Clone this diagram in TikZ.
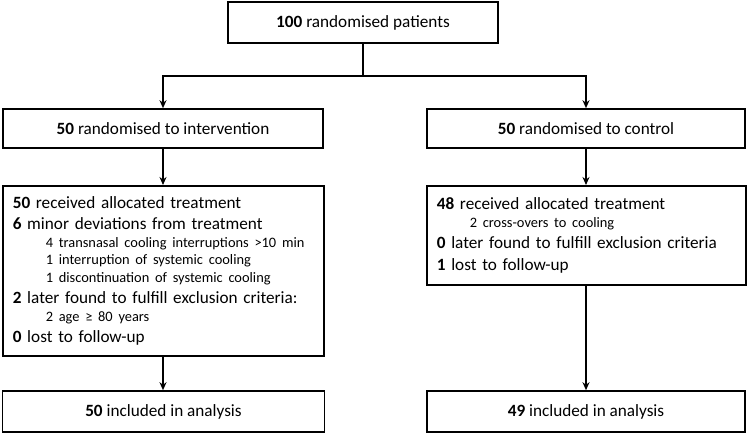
\documentclass[tikz,border=0pt]{standalone}
\usepackage{fontspec}
\setmainfont{Carlito}
\usepackage{tikz}
\usetikzlibrary{positioning, arrows.meta}

\newcommand{\mainln}{\fontsize{17.2}{21.5}\selectfont}
\newcommand{\subln}{\fontsize{14.4}{17.5}\selectfont\hspace*{33pt}}

\begin{document}
\begin{tikzpicture}[
  x=1pt, y=-1pt,
  cbox/.style={draw=black, line width=1.6pt, minimum height=40pt, align=center,
               font=\mainln, inner sep=0pt},
  lbox/.style={draw=black, line width=1.6pt, anchor=north west, align=left,
               font=\mainln, inner xsep=10pt, inner ysep=0pt},
  arr/.style={line width=1.6pt, -{Stealth[length=8pt, width=7pt]}},
  ln/.style={line width=1.6pt},
]
  \useasboundingbox (0,0) rectangle (750,435);

  % Root node
  \node[cbox, minimum width=270pt, minimum height=41pt] (rnd) at (363,22.5) {\textbf{100} randomised patients};

  % Arms
  \node[cbox, minimum width=320pt, minimum height=39pt] (itv) at (163,128.5) {\textbf{50} randomised to intervention};
  \node[cbox, minimum width=318pt, minimum height=39pt] (ctl) at (586,128.5) {\textbf{50} randomised to control};
  \coordinate (split) at (363,76);
  \draw[ln] (rnd.south) -- (split);
  \draw[arr] (split) -| (itv.north);
  \draw[arr] (split) -| (ctl.north);

  % Allocation, intervention arm
  \node[lbox, text width=301pt, minimum height=170pt] (itvA) at (2,185) {%
    \mainln\textbf{50} received allocated treatment\par
    \mainln\textbf{6} minor deviations from treatment\par
    \subln 4 transnasal cooling interruptions >10 min\par
    \subln 1 interruption of systemic cooling\par
    \subln 1 discontinuation of systemic cooling\par
    \mainln\textbf{2} later found to fulfill exclusion criteria:\par
    \subln 2 age ≥ 80 years\par
    \mainln\textbf{0} lost to follow-up};

  % Allocation, control arm
  \node[lbox, text width=299pt, minimum height=99pt] (ctlA) at (426,185) {%
    \mainln\textbf{48} received allocated treatment\par
    \subln 2 cross-overs to cooling\par
    \mainln\textbf{0} later found to fulfill exclusion criteria\par
    \mainln\textbf{1} lost to follow-up};
  \draw[arr] (itv.south) -- (itv.south |- itvA.north);
  \draw[arr] (ctl.south) -- (ctl.south |- ctlA.north);

  % Analysis
  \node[cbox, minimum width=322pt, minimum height=41pt] (itvN) at (163.5,411.5) {\textbf{50} included in analysis};
  \node[cbox, minimum width=318pt, minimum height=41pt] (ctlN) at (586,411.5) {\textbf{49} included in analysis};
  \draw[arr] (itvA.south -| itv.south) -- (itvN.north -| itv.south);
  \draw[arr] (ctlA.south -| ctl.south) -- (ctlN.north -| ctl.south);

\end{tikzpicture}
\end{document}
